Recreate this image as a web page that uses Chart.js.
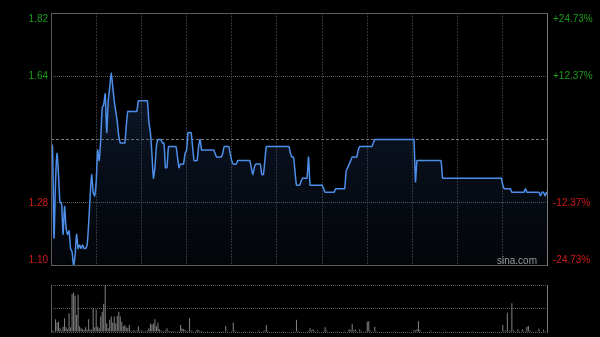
<!DOCTYPE html>
<html>
<head>
<meta charset="utf-8">
<script src="https://cdn.jsdelivr.net/npm/chart.js@4/dist/chart.umd.min.js"></script>
<style>
body { margin: 0; background: #000; width: 600px; height: 337px; overflow: hidden; position: relative; }
canvas { position: absolute; left: 0; }
#priceChart { top: 0; }
#volChart { top: 280px; }
</style>
</head>
<body>
<canvas id="priceChart" width="600" height="270"></canvas>
<canvas id="volChart" width="600" height="57"></canvas>
<script>
// one value per trading minute, 09:30-12:00 then 13:00-16:00 (331 points)
const prices = [
    1.45,1.44,1.18,1.34,1.42,1.36,1.28,1.28,1.19,1.27,
    1.21,1.19,1.20,1.15,1.14,1.10,1.13,1.19,1.15,1.16,
    1.15,1.16,1.15,1.15,1.16,1.22,1.30,1.36,1.31,1.30,
    1.34,1.43,1.40,1.46,1.55,1.56,1.59,1.48,1.57,1.61,
    1.65,1.61,1.57,1.54,1.51,1.47,1.45,1.45,1.45,1.45,
    1.50,1.54,1.54,1.54,1.54,1.54,1.54,1.54,1.57,1.57,
    1.57,1.57,1.57,1.57,1.57,1.51,1.48,1.42,1.35,1.38,
    1.44,1.46,1.46,1.46,1.45,1.45,1.38,1.38,1.44,1.44,
    1.44,1.44,1.44,1.44,1.41,1.38,1.39,1.39,1.39,1.42,
    1.43,1.48,1.48,1.48,1.44,1.40,1.40,1.40,1.44,1.46,
    1.43,1.43,1.43,1.43,1.43,1.43,1.43,1.43,1.43,1.42,
    1.41,1.41,1.41,1.41,1.42,1.44,1.44,1.44,1.44,1.42,
    1.40,1.39,1.39,1.39,1.40,1.40,1.40,1.40,1.40,1.40,
    1.40,1.40,1.40,1.38,1.36,1.38,1.39,1.39,1.39,1.39,
    1.36,1.36,1.40,1.44,1.44,1.44,1.44,1.44,1.44,1.44,
    1.44,1.44,1.44,1.44,1.44,1.44,1.44,1.44,1.44,1.42,
    1.41,1.41,1.37,1.33,1.33,1.33,1.34,1.35,1.35,1.35,
    1.35,1.41,1.33,1.33,1.33,1.33,1.33,1.33,1.33,1.33,
    1.33,1.32,1.31,1.31,1.31,1.31,1.31,1.31,1.31,1.32,
    1.32,1.32,1.32,1.32,1.32,1.32,1.37,1.38,1.39,1.40,
    1.41,1.41,1.41,1.41,1.43,1.44,1.44,1.44,1.44,1.44,
    1.44,1.44,1.44,1.44,1.45,1.46,1.46,1.46,1.46,1.46,
    1.46,1.46,1.46,1.46,1.46,1.46,1.46,1.46,1.46,1.46,
    1.46,1.46,1.46,1.46,1.46,1.46,1.46,1.46,1.46,1.46,
    1.46,1.46,1.34,1.40,1.40,1.40,1.40,1.40,1.40,1.40,
    1.40,1.40,1.40,1.40,1.40,1.40,1.40,1.40,1.40,1.40,
    1.35,1.35,1.35,1.35,1.35,1.35,1.35,1.35,1.35,1.35,
    1.35,1.35,1.35,1.35,1.35,1.35,1.35,1.35,1.35,1.35,
    1.35,1.35,1.35,1.35,1.35,1.35,1.35,1.35,1.35,1.35,
    1.35,1.35,1.35,1.35,1.35,1.35,1.35,1.35,1.35,1.35,
    1.33,1.32,1.32,1.32,1.32,1.32,1.31,1.31,1.31,1.31,
    1.31,1.31,1.31,1.31,1.31,1.32,1.31,1.31,1.31,1.31,
    1.31,1.31,1.31,1.31,1.31,1.30,1.31,1.31,1.30,1.31,
    1.30
];

// volume per minute (relative units, max bar = 100)
const volumes = [
    15,3,2,27,20,22,8,3,11,29,
    10,6,40,10,81,84,77,36,79,12,
    8,6,4,10,5,27,5,5,50,10,
    48,11,8,33,43,60,100,18,8,26,
    33,20,33,18,34,43,33,22,12,15,
    10,8,15,3,2,4,2,3,12,2,
    3,2,2,2,3,8,18,16,18,27,
    12,20,6,3,2,2,3,8,2,2,
    2,2,2,1,2,2,15,8,6,4,
    2,2,29,3,2,1,2,5,4,2,
    2,1,1,1,2,1,1,2,1,1,
    1,1,2,1,2,1,13,2,1,1,
    2,20,3,1,2,1,1,1,1,2,
    1,1,2,1,1,1,1,1,3,1,
    1,2,3,15,2,1,1,1,1,1,
    1,1,1,1,2,1,1,1,1,1,
    1,2,1,26,2,1,1,1,1,1,
    1,2,8,3,6,2,1,3,1,1,
    1,2,10,3,1,1,1,1,1,1,
    2,1,1,1,1,2,1,1,6,4,
    17,3,6,2,1,6,2,1,1,2,
    22,23,3,1,1,11,2,1,1,1,
    1,1,1,1,1,1,1,1,2,1,
    1,1,1,1,1,1,1,1,1,1,
    1,4,3,6,23,4,1,1,1,1,
    1,1,3,1,1,1,1,1,1,1,
    1,1,2,1,1,1,1,1,1,1,
    1,1,1,1,1,1,1,1,1,1,
    2,1,1,1,1,1,1,1,1,1,
    1,1,1,1,1,1,1,1,1,1,
    15,2,3,41,2,3,61,3,2,1,
    6,2,1,6,2,2,11,13,3,1,
    1,1,2,1,7,1,1,5,2,1,
    2
];

const prevClose = 1.46;
const priceTicks = [1.10, 1.28, 1.46, 1.64, 1.82];
const priceLabels = ['1.10', '1.28', '', '1.64', '1.82'];
const pctLabels = ['-24.73%', '-12.37%', '', '+12.37%', '+24.73%'];
const volTicks = [0, 50, 100];
const minutes = prices.map((p, i) => i);

const FONT = '10px "Liberation Sans", Arial, sans-serif';

// price / percent labels at both sides + watermark
const sideLabels = {
    id: 'sideLabels',
    afterDraw(chart) {
        const { ctx, chartArea, scales } = chart;
        ctx.save();
        ctx.font = FONT;
        ctx.textBaseline = 'middle';
        priceTicks.forEach((v, i) => {
            let py = scales.y.getPixelForValue(v);
            py = Math.min(Math.max(py, chartArea.top + 6), chartArea.bottom - 6);
            ctx.fillStyle = v > prevClose ? '#199a19' : '#d01a1a';
            ctx.textAlign = 'right';
            ctx.fillText(priceLabels[i], chartArea.left - 3, py);
            ctx.textAlign = 'left';
            ctx.fillText(pctLabels[i], chartArea.right + 5, py);
        });
        ctx.fillStyle = '#9a9a9a';
        ctx.textAlign = 'right';
        ctx.fillText('sina.com', chartArea.right - 11, chartArea.bottom - 5);
        ctx.restore();
    }
};

// solid frame round the plot area
const frame = {
    id: 'frame',
    afterDraw(chart, args, opts) {
        const { ctx, chartArea: a } = chart;
        ctx.save();
        ctx.lineWidth = 1;
        ctx.strokeStyle = '#5a5a5a';
        ctx.beginPath();
        if (opts.top) { ctx.moveTo(a.left, a.top + 0.5); ctx.lineTo(a.right, a.top + 0.5); }
        if (opts.bottom) { ctx.moveTo(a.left, a.bottom - 0.5); ctx.lineTo(a.right, a.bottom - 0.5); }
        ctx.moveTo(a.left + 0.5, a.top); ctx.lineTo(a.left + 0.5, a.bottom);
        ctx.stroke();
        ctx.strokeStyle = '#7a7a7a';
        ctx.beginPath();
        ctx.moveTo(a.right - 0.5, a.top); ctx.lineTo(a.right - 0.5, a.bottom);
        ctx.stroke();
        ctx.restore();
    }
};

new Chart(document.getElementById('priceChart'), {
    type: 'line',
    data: {
        datasets: [{
            data: prices.map((p, i) => ({ x: minutes[i], y: p })),
            borderColor: '#4d8eea',
            borderWidth: 1.5,
            pointRadius: 0,
            tension: 0.2,
            fill: 'start',
            backgroundColor: (c) => {
                const a = c.chart.chartArea;
                if (!a) return 'rgba(40,75,130,0.3)';
                const g = c.chart.ctx.createLinearGradient(0, a.top, 0, a.bottom);
                g.addColorStop(0, 'rgba(40,75,130,0.4)');
                g.addColorStop(1, 'rgba(40,75,130,0.06)');
                return g;
            }
        }]
    },
    options: {
        responsive: false,
        animation: false,
        devicePixelRatio: 1,
        layout: { padding: { top: 13, bottom: 4, right: 52, left: 0 } },
        plugins: { legend: { display: false }, tooltip: { enabled: false }, frame: { top: true, bottom: true } },
        scales: {
            x: {
                type: 'linear', min: 0, max: 330,
                ticks: { display: false, stepSize: 30 },
                grid: {
                    drawTicks: false,
                    color: (c) => (c.tick && (c.tick.value === 0 || c.tick.value === 330)) ? 'transparent' : '#333'
                },
                border: { display: false, dash: [2, 1] },
                afterFit: (s) => { s.height = 0; }
            },
            y: {
                min: 1.10, max: 1.82,
                afterBuildTicks: (s) => { s.ticks = priceTicks.map(v => ({ value: v })); },
                ticks: { display: false },
                grid: {
                    drawTicks: false,
                    color: (c) => {
                        const v = c.tick && c.tick.value;
                        if (v === prevClose) return '#777';
                        if (v === 1.64 || v === 1.28) return '#555';
                        return 'transparent';
                    }
                },
                border: { display: false, dash: (c) => (c.tick && c.tick.value === prevClose) ? [3, 2] : [1, 1] },
                afterFit: (s) => { s.width = 51; }
            }
        }
    },
    plugins: [sideLabels, frame]
});

new Chart(document.getElementById('volChart'), {
    type: 'bar',
    data: {
        labels: minutes,
        datasets: [{
            data: volumes,
            backgroundColor: '#7c7c7c',
            barPercentage: 0.7,
            categoryPercentage: 1
        }]
    },
    options: {
        responsive: false,
        animation: false,
        devicePixelRatio: 1,
        layout: { padding: { top: 5, bottom: 5, right: 52, left: 0 } },
        plugins: { legend: { display: false }, tooltip: { enabled: false }, frame: { top: false, bottom: false } },
        scales: {
            x: {
                offset: false,
                ticks: { display: false },
                grid: { display: false },
                border: { display: false },
                afterFit: (s) => { s.height = 0; }
            },
            y: {
                min: 0, max: 100,
                afterBuildTicks: (s) => { s.ticks = volTicks.map(v => ({ value: v })); },
                ticks: { display: false },
                grid: { drawTicks: false, color: '#5a5a5a' },
                border: { display: false, dash: [1, 1] },
                afterFit: (s) => { s.width = 51; }
            }
        }
    },
    plugins: [frame]
});
</script>
</body>
</html>
